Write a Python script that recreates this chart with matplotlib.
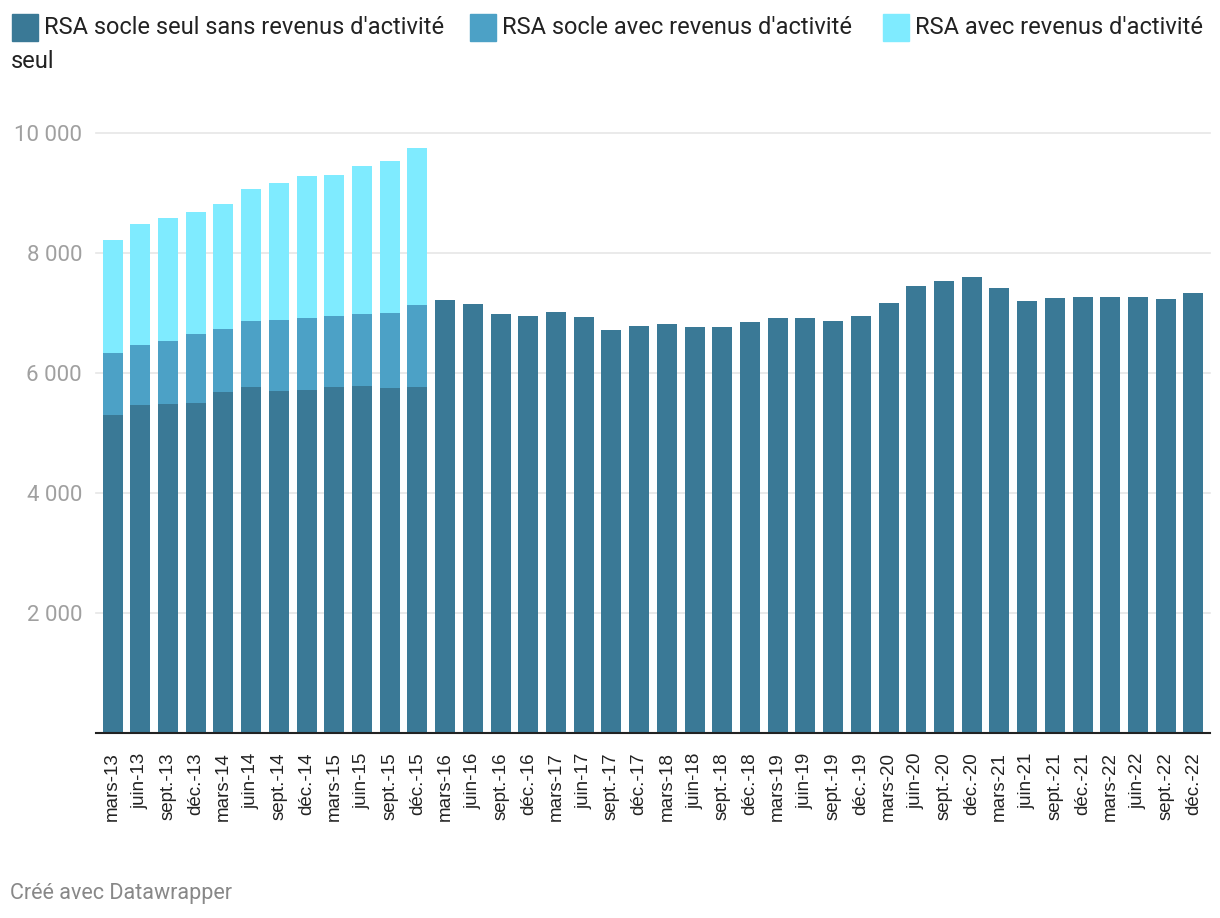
import matplotlib
matplotlib.use("Agg")
from matplotlib import pyplot as plt
from matplotlib.patches import Rectangle
from matplotlib.ticker import FuncFormatter

plt.rcParams['font.family'] = ['Roboto', 'DejaVu Sans']

# trimestres mars-13 -> déc-22
mois = ["mars", "juin", "sept.", "déc."]
periodes = ["{}-{}".format(m, a) for a in range(13, 23) for m in mois]

# RSA socle seul sans revenus d'activité
socle_seul = [5300, 5467, 5483, 5500, 5683, 5767, 5700, 5717, 5767, 5783, 5750, 5767,
              7217, 7150, 6983, 6950, 7017, 6933, 6717, 6783, 6817, 6767, 6767, 6850,
              6917, 6917, 6867, 6950, 7167, 7450, 7533, 7600, 7417, 7200, 7250, 7267,
              7267, 7267, 7233, 7333]
# RSA socle avec revenus d'activité (jusqu'à déc-15)
socle_avec = [1033, 1000, 1050, 1150, 1050, 1100, 1183, 1200, 1183, 1200, 1250, 1366]
# RSA avec revenus d'activité seul (jusqu'à déc-15)
activite_seul = [1884, 2016, 2050, 2033, 2084, 2200, 2284, 2366, 2350, 2467, 2533, 2617]

c_dark = "#3a7996"
c_mid = "#4ca1c6"
c_light = "#7febff"

W, H = 1220, 918
fig = plt.figure(figsize=(W / 100, H / 100), dpi=100)
ax = fig.add_axes([96 / W, (H - 733) / H, 1114 / W, 600 / H])

x = list(range(len(periodes)))
n = len(socle_avec)
ax.bar(x, socle_seul, width=0.72, color=c_dark, zorder=3)
bas2 = socle_seul[:n]
ax.bar(x[:n], socle_avec, width=0.72, bottom=bas2, color=c_mid, zorder=3)
bas3 = [a + b for a, b in zip(socle_seul[:n], socle_avec)]
ax.bar(x[:n], activite_seul, width=0.72, bottom=bas3, color=c_light, zorder=3)

ax.set_xlim(-0.6, len(periodes) - 0.4)
ax.set_ylim(0, 10000)
ax.set_yticks([2000, 4000, 6000, 8000, 10000])
ax.yaxis.set_major_formatter(FuncFormatter(lambda v, p: "{:,}".format(int(v)).replace(",", " ")))
ax.grid(axis="y", color="#e6e6e6", linewidth=1.2, zorder=0, clip_on=False)
for s in ["top", "right", "left"]:
    ax.spines[s].set_visible(False)
ax.spines["bottom"].set_color("#222222")
ax.spines["bottom"].set_linewidth(1.5)
ax.spines["bottom"].set_zorder(4)
ax.tick_params(axis="y", length=0, labelsize=16, labelcolor="#a0a0a0", pad=10)
ax.tick_params(axis="x", length=0, pad=14)
ax.set_xticks(x)
ax.set_xticklabels(periodes, rotation=90, fontsize=13.5, color="#222222",
                   family=["Liberation Sans", "DejaVu Sans"])
for lab in ax.get_yticklabels():
    lab.set_horizontalalignment("right")

# légende
legende = [(12, c_dark, "RSA socle seul sans revenus d'activité"),
           (470, c_mid, "RSA socle avec revenus d'activité"),
           (883, c_light, "RSA avec revenus d'activité")]
for px, col, txt in legende:
    fig.patches.append(Rectangle((px / W, (H - 41) / H), 26 / W, 27 / H,
                                 transform=fig.transFigure, color=col))
    fig.text((px + 32) / W, (H - 28) / H, txt, fontsize=17, color="#222222", va="center")
fig.text(11 / W, (H - 62) / H, "seul", fontsize=17, color="#222222", va="center")

fig.text(10 / W, (H - 893) / H, "Créé avec Datawrapper", fontsize=15.5, color="#888888", va="center")

plt.savefig("out.png", dpi=100)
